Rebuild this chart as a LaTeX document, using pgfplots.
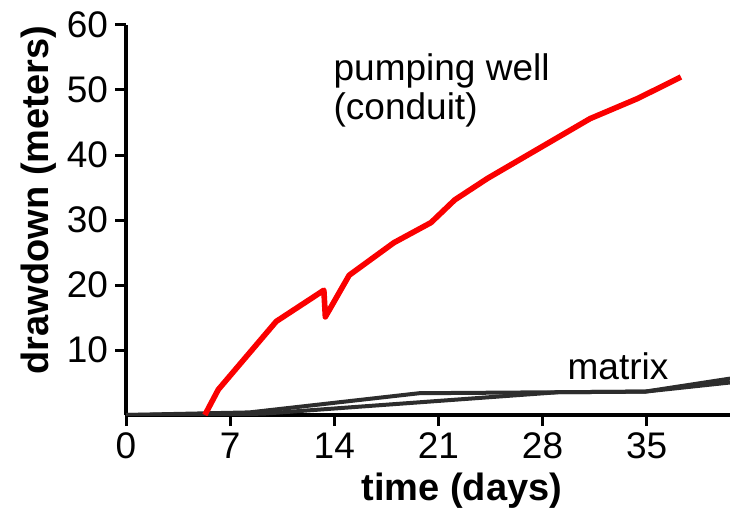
\documentclass[border=0pt]{standalone}
\usepackage{fontspec}
\setmainfont{Liberation Sans}
\usepackage{pgfplots}
\pgfplotsset{compat=1.18}

\definecolor{wellred}{RGB}{250,0,0}
\definecolor{matrixgray}{RGB}{45,45,45}

\begin{document}
\begin{tikzpicture}
\begin{axis}[
  scale only axis,
  width=302pt, height=195pt,
  xmin=0, xmax=40.6,
  ymin=0, ymax=60,
  axis x line=bottom, axis y line=left,
  axis line style={-, line width=2pt, black},
  xtick={0,7,14,21,28,35},
  ytick={10,20,30,40,50,60},
  tick align=outside,
  major tick length=5.5pt,
  tick style={line width=1.5pt, black},
  /pgf/number format/assume math mode=true,
  tick label style={font=\fontsize{18.5}{20}\selectfont},
  xlabel={time (days)},
  ylabel={drawdown (meters)},
  label style={font=\fontsize{19}{21}\selectfont\bfseries},
  xlabel style={at={(axis description cs:0.556,-0.218)}, anchor=base},
  ylabel style={at={(axis description cs:-0.129,0.551)}, anchor=base},
]
\addplot[matrixgray, line width=2pt, line join=round] coordinates {
  (0,0) (8.3,0.4) (19.7,3.35) (34.9,3.6) (40.6,5.6)
};
\addplot[matrixgray, line width=2pt, line join=round] coordinates {
  (0,0) (9.2,0.2) (29,3.5) (34.9,3.6) (40.6,5.0)
};
\addplot[wellred, line width=2.8pt, line join=round] coordinates {
  (5.3,0) (6.2,3.9) (10.1,14.4) (13.3,19.2) (13.4,15.1) (15.0,21.5)
  (18.0,26.5) (20.5,29.6) (22.1,33.1) (24.3,36.4) (31.2,45.6)
  (34.4,48.7) (37.3,52.0)
};
\node[anchor=base west, font=\fontsize{18.5}{20}\selectfont, inner sep=0pt] at (axis cs:13.93,51.5) {pumping well};
\node[anchor=base west, font=\fontsize{18.5}{20}\selectfont, inner sep=0pt] at (axis cs:13.93,45.4) {(conduit)};
\node[anchor=base west, font=\fontsize{18.5}{20}\selectfont, inner sep=0pt] at (axis cs:29.66,5.5) {matrix};
\coordinate (bl) at (rel axis cs:0,0);
\coordinate (tr) at (rel axis cs:1,1);
\end{axis}
\pgfresetboundingbox
\path ([shift={(-63pt,-46.5pt)}]bl) rectangle ([shift={(0pt,12.5pt)}]tr);
\end{tikzpicture}
\end{document}
